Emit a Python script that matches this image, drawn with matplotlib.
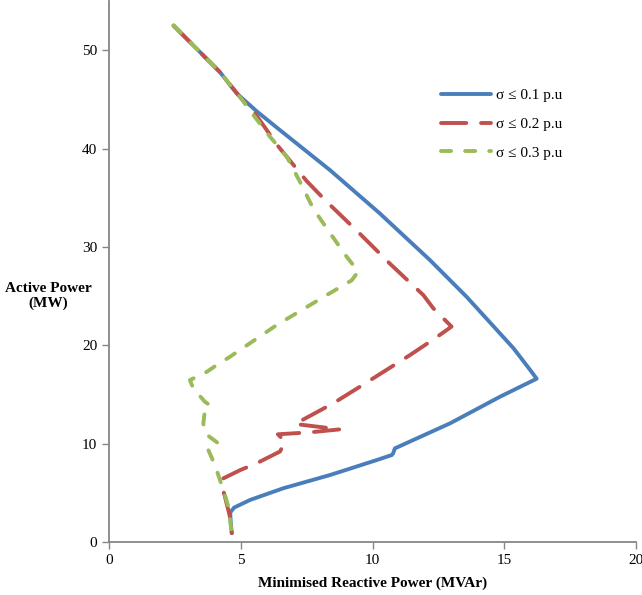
import numpy as np
import matplotlib
matplotlib.use('Agg')
import matplotlib.pyplot as plt

# Dados (Q em MVAr, P em MW)
q_01 = [2.45, 4.2, 4.85, 5.6, 6.49, 8.39, 10.28, 12.18, 13.57, 14.33, 15.35, 15.98, 16.23,
        14.84, 12.94, 10.85, 10.78, 10.73, 10.16, 8.39, 6.61, 5.35, 4.75, 4.6, 4.62, 4.66]
p_01 = [52.5, 47.8, 45.6, 43.8, 41.87, 37.8, 33.4, 28.66, 24.93, 22.7, 19.7, 17.5, 16.6,
        14.77, 12.06, 9.52, 9.0, 8.84, 8.33, 6.81, 5.46, 4.27, 3.5, 3.0, 2.0, 0.9]

q_02 = [2.45, 4.2, 4.97, 5.54, 6.43, 7.5, 8.26, 9.46, 10.66, 11.93, 12.31, 13.0,
        12.37, 11.42, 9.53, 8.51, 7.06, 8.76, 7.63, 6.41, 6.68, 6.49, 5.6, 4.97,
        4.34, 4.28, 4.4, 4.59, 4.66]
p_02 = [52.5, 47.8, 45.25, 43.57, 40.2, 36.7, 34.6, 31.5, 28.3, 25.1, 23.75, 21.9,
        20.7, 19.0, 15.8, 14.1, 12.0, 11.45, 11.15, 10.95, 10.2, 9.2, 8.0, 7.3,
        6.47, 5.79, 4.6, 2.57, 0.9]

q_03 = [2.45, 4.2, 4.97, 5.48, 6.11, 6.74, 7.25, 7.75, 8.39, 9.02, 9.46, 9.21, 8.26,
        6.36, 4.59, 4.15, 3.71, 3.07, 3.2, 3.64, 3.83, 3.64, 3.58, 3.64, 4.15, 3.77,
        4.02, 4.34, 4.53, 4.66]
p_03 = [52.5, 47.8, 45.25, 43.4, 41.2, 39.2, 36.6, 33.9, 31.4, 29.0, 27.5, 26.6, 25.1,
        22.05, 18.83, 18.1, 17.3, 16.46, 15.6, 14.26, 13.9, 13.4, 12.06, 11.05, 10.03, 9.35,
        7.83, 5.28, 3.59, 0.9]

labels = ['σ ≤ 0.1 p.u', 'σ ≤ 0.2 p.u', 'σ ≤ 0.3 p.u']

plt.rcParams['font.family'] = ['Liberation Serif', 'DejaVu Serif']

fig = plt.figure(figsize=(6.42, 5.95), dpi=100)
ax = fig.add_axes([109 / 642, 53 / 595, 527 / 642, 541 / 595])

ax.plot(q_01, p_01, color='#4A7EBB', lw=2.8, solid_capstyle='round',
        solid_joinstyle='round', label=labels[0])
ax.plot(q_02, p_02, color='#C0504D', lw=2.8, dashes=(6.5, 3.8),
        dash_capstyle='round', dash_joinstyle='round', label=labels[1])
ax.plot(q_03, p_03, color='#9BBB59', lw=2.8, dashes=(2.6, 3.6),
        dash_capstyle='round', dash_joinstyle='round', label=labels[2])

ax.set_xlim(0, 20)
ax.set_ylim(0, 55)
ax.set_xticks([0, 5, 10, 15, 20])
ax.set_yticks([0, 10, 20, 30, 40, 50])
for s in ['top', 'right']:
    ax.spines[s].set_visible(False)
for s in ['left', 'bottom']:
    ax.spines[s].set_color('#868686')
    ax.spines[s].set_linewidth(1.3)
ax.tick_params(colors='#868686', labelcolor='black', labelsize=11, length=5, width=1)

ax.set_xlabel('Minimised Reactive Power (MVAr)', fontsize=11, fontweight='bold', labelpad=7)
ax.set_ylabel('Active Power\n(MW)', fontsize=11, fontweight='bold', rotation=0,
              ha='center', va='center', labelpad=0)
ax.yaxis.set_label_coords(-0.115, 0.455)

ax.legend(loc='upper left', bbox_to_anchor=(427 / 642, 1 - 75 / 595),
          bbox_transform=fig.transFigure, frameon=False, fontsize=11,
          handlelength=3.3, handletextpad=0.3, labelspacing=0.98)

plt.savefig('out.png', dpi=100)
